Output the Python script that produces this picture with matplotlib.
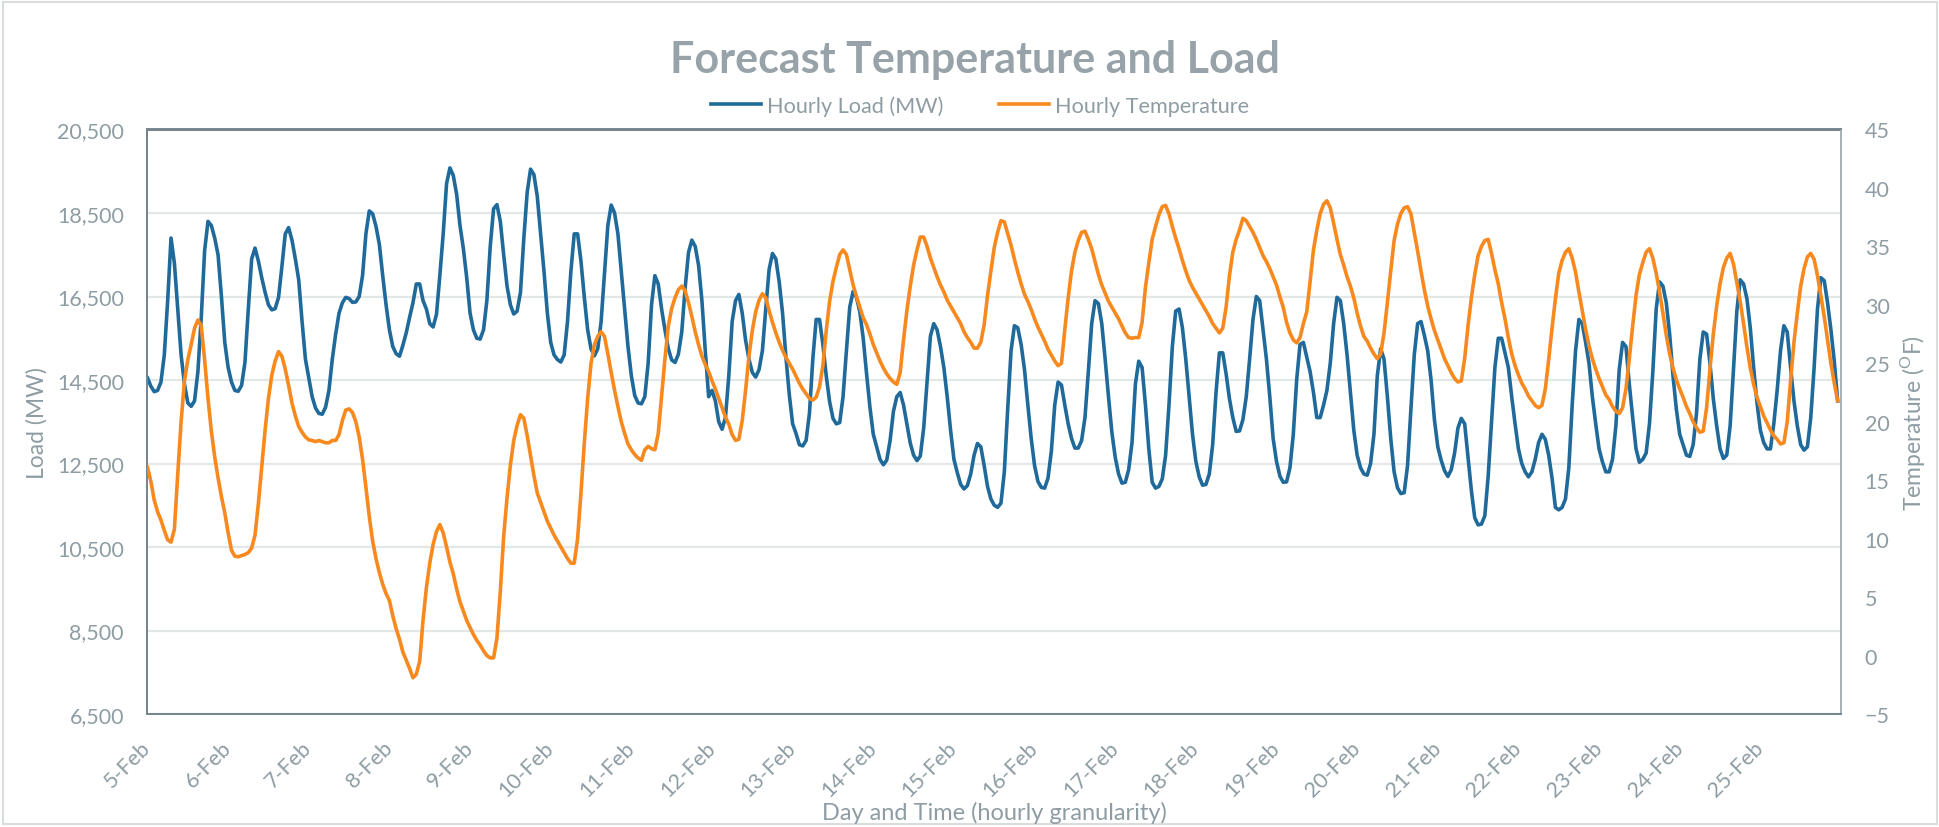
import matplotlib
matplotlib.use("Agg")
import matplotlib.pyplot as plt
import numpy as np
from matplotlib.ticker import FuncFormatter
from matplotlib.patches import Rectangle

# ---------------- data (hourly, 5-Feb 00:00 .. 25-Feb 23:00) -------------
day_labels = [f"{d}-Feb" for d in range(5, 26)]

load_mw = [
    # 5-Feb
    14550, 14350, 14220, 14250, 14450, 15100, 16400, 17900, 17300, 16200, 15100, 14400,
    13950, 13870, 14000, 14700, 16000, 17600, 18300, 18200, 17900, 17500, 16500, 15400,
    # 6-Feb
    14800, 14450, 14250, 14230, 14370, 14920, 16200, 17400, 17660, 17350, 16950, 16600,
    16300, 16180, 16210, 16480, 17220, 18000, 18150, 17850, 17400, 16900, 15900, 15000,
    # 7-Feb
    14550, 14100, 13830, 13700, 13680, 13850, 14250, 15000, 15600, 16100, 16350, 16480,
    16450, 16360, 16370, 16500, 17000, 18000, 18550, 18480, 18180, 17750, 17000, 16300,
    # 8-Feb
    15700, 15300, 15130, 15070, 15330, 15630, 16000, 16350, 16800, 16800, 16400, 16200,
    15850, 15770, 16070, 17000, 18000, 19200, 19580, 19400, 18950, 18200, 17650, 16950,
    # 9-Feb
    16100, 15700, 15500, 15480, 15700, 16400, 17700, 18600, 18700, 18300, 17500, 16750,
    16300, 16080, 16150, 16600, 17900, 19000, 19550, 19420, 18900, 18000, 17100, 16100,
    # 10-Feb
    15400, 15100, 14990, 14930, 15100, 15900, 17100, 18000, 18000, 17350, 16480, 15700,
    15240, 15080, 15250, 15900, 17050, 18200, 18690, 18500, 18000, 17100, 16200, 15300,
    # 11-Feb
    14600, 14130, 13950, 13930, 14100, 14900, 16300, 17000, 16800, 16200, 15700, 15250,
    14980, 14920, 15120, 15650, 16700, 17550, 17850, 17700, 17250, 16400, 15200, 14100,
    # 12-Feb
    14250, 14000, 13500, 13320, 13600, 14600, 15900, 16400, 16550, 16100, 15450, 15000,
    14680, 14570, 14750, 15200, 16200, 17150, 17530, 17400, 16850, 16100, 15050, 14150,
    # 13-Feb
    13450, 13220, 12950, 12920, 13050, 13700, 15000, 15950, 15950, 15350, 14600, 13980,
    13580, 13450, 13480, 14100, 15200, 16250, 16620, 16480, 16130, 15500, 14650, 13850,
    # 14-Feb
    13200, 12900, 12600, 12470, 12580, 13050, 13750, 14100, 14200, 13900, 13450, 12990,
    12700, 12570, 12680, 13350, 14450, 15550, 15850, 15700, 15300, 14800, 14100, 13300,
    # 15-Feb
    12600, 12280, 12000, 11890, 11970, 12250, 12700, 12980, 12900, 12450, 11950, 11650,
    11500, 11450, 11550, 12300, 13800, 15200, 15800, 15750, 15350, 14750, 13900, 13100,
    # 16-Feb
    12450, 12070, 11930, 11910, 12150, 12800, 13900, 14450, 14380, 13900, 13450, 13100,
    12870, 12870, 13050, 13600, 14700, 15850, 16400, 16330, 15850, 15000, 14100, 13250,
    # 17-Feb
    12650, 12250, 12030, 12050, 12350, 13000, 14400, 14950, 14800, 13900, 12850, 12050,
    11910, 11950, 12130, 12700, 13900, 15300, 16150, 16200, 15750, 15000, 14100, 13200,
    # 18-Feb
    12550, 12180, 11980, 12000, 12250, 12950, 14200, 15150, 15150, 14650, 14050, 13600,
    13270, 13280, 13550, 14100, 15000, 15950, 16500, 16400, 15700, 15000, 14100, 13100,
    # 19-Feb
    12550, 12200, 12050, 12060, 12400, 13200, 14500, 15350, 15400, 15050, 14700, 14200,
    13600, 13600, 13900, 14250, 14900, 15850, 16480, 16400, 15850, 15100, 14200, 13300,
    # 20-Feb
    12700, 12400, 12250, 12220, 12500, 13200, 14600, 15250, 15000, 14100, 13100, 12300,
    11920, 11780, 11800, 12450, 13800, 15100, 15850, 15900, 15570, 15200, 14500, 13550,
    # 21-Feb
    12900, 12580, 12330, 12190, 12350, 12750, 13350, 13580, 13450, 12650, 11850, 11200,
    11030, 11050, 11250, 12200, 13500, 14800, 15500, 15500, 15150, 14800, 14100, 13450,
    # 22-Feb
    12850, 12500, 12300, 12180, 12300, 12600, 13000, 13200, 13080, 12700, 12150, 11450,
    11390, 11450, 11650, 12400, 13900, 15200, 15950, 15850, 15400, 14900, 14100, 13450,
    # 23-Feb
    12850, 12540, 12300, 12300, 12600, 13400, 14750, 15400, 15300, 14400, 13600, 12850,
    12530, 12600, 12750, 13450, 14700, 16200, 16850, 16750, 16350, 15600, 14600, 13800,
    # 24-Feb
    13200, 12950, 12700, 12670, 12950, 13700, 15000, 15650, 15600, 14900, 14050, 13400,
    12850, 12620, 12700, 13400, 14750, 16150, 16900, 16800, 16450, 15750, 14800, 13950,
    # 25-Feb
    13300, 13000, 12850, 12850, 13450, 14250, 15200, 15800, 15650, 14800, 14000, 13400,
    12950, 12820, 12900, 13600, 14800, 16200, 16950, 16880, 16350, 15700, 14950, 14000,
]

temp_f = [
    # 5-Feb
    16.1, 14.9, 13.3, 12.3, 11.6, 10.7, 9.9, 9.7, 10.8, 15.5, 20.0, 23.5,
    25.3, 26.6, 28.0, 28.7, 28.2, 25.3, 22.0, 19.2, 17.0, 15.2, 13.6, 12.2,
    # 6-Feb
    10.5, 9.0, 8.5, 8.45, 8.55, 8.65, 8.8, 9.2, 10.3, 13.0, 16.2, 19.3,
    22.0, 24.0, 25.2, 26.0, 25.6, 24.5, 23.1, 21.6, 20.5, 19.6, 19.1, 18.7,
    # 7-Feb
    18.45, 18.4, 18.3, 18.4, 18.3, 18.2, 18.2, 18.4, 18.4, 18.9, 20.1, 21.0,
    21.1, 20.8, 20.0, 18.7, 16.8, 14.4, 11.9, 9.8, 8.3, 7.1, 6.1, 5.3,
    # 8-Feb
    4.7, 3.4, 2.3, 1.4, 0.3, -0.4, -1.1, -1.9, -1.6, -0.5, 3.0, 5.8,
    7.9, 9.5, 10.6, 11.2, 10.5, 9.3, 8.0, 7.0, 5.7, 4.6, 3.8, 3.0,
    # 9-Feb
    2.4, 1.8, 1.3, 0.9, 0.4, 0.0, -0.2, -0.2, 1.5, 5.5, 10.2, 13.5,
    16.3, 18.4, 19.7, 20.6, 20.3, 18.8, 17.1, 15.4, 13.9, 13.1, 12.3, 11.5,
    # 10-Feb
    10.9, 10.3, 9.8, 9.3, 8.8, 8.3, 7.9, 7.9, 10.0, 13.9, 18.2, 22.0,
    25.0, 26.6, 27.3, 27.7, 27.3, 25.8, 24.2, 22.7, 21.3, 20.0, 19.0, 18.1,
    # 11-Feb
    17.6, 17.2, 16.9, 16.7, 17.6, 17.9, 17.7, 17.6, 19.0, 22.2, 25.4, 28.2,
    29.7, 30.6, 31.3, 31.6, 31.2, 30.2, 29.0, 27.7, 26.6, 25.6, 24.9, 24.3,
    # 12-Feb
    23.5, 22.8, 22.0, 21.2, 20.4, 19.8, 18.9, 18.4, 18.5, 20.1, 22.7, 25.6,
    27.8, 29.4, 30.4, 30.95, 30.6, 29.5, 28.5, 27.6, 26.8, 26.1, 25.5, 25.0,
    # 13-Feb
    24.5, 23.9, 23.3, 22.8, 22.4, 22.0, 21.85, 22.1, 23.0, 24.8, 27.8, 30.3,
    32.0, 33.2, 34.3, 34.7, 34.3, 33.0, 31.7, 30.7, 29.8, 28.9, 28.3, 27.5,
    # 14-Feb
    26.6, 25.9, 25.2, 24.6, 24.1, 23.7, 23.4, 23.2, 24.2, 27.0, 29.5, 31.6,
    33.4, 34.7, 35.8, 35.8, 35.0, 34.0, 33.2, 32.4, 31.7, 31.1, 30.4, 29.9,
    # 15-Feb
    29.4, 28.9, 28.4, 27.7, 27.2, 26.8, 26.3, 26.3, 26.8, 28.3, 30.8, 32.9,
    34.9, 36.2, 37.2, 37.1, 36.1, 35.1, 33.9, 32.8, 31.8, 30.9, 30.3, 29.6,
    # 16-Feb
    28.8, 28.1, 27.5, 26.9, 26.2, 25.7, 25.2, 24.8, 25.0, 27.9, 30.6, 32.9,
    34.5, 35.5, 36.2, 36.3, 35.6, 34.8, 33.7, 32.6, 31.7, 31.0, 30.3, 29.8,
    # 17-Feb
    29.3, 28.8, 28.2, 27.6, 27.2, 27.15, 27.2, 27.2, 28.5, 31.5, 33.6, 35.6,
    36.7, 37.7, 38.4, 38.5, 37.8, 36.7, 35.7, 34.8, 33.8, 32.9, 32.1, 31.5,
    # 18-Feb
    31.0, 30.5, 30.0, 29.5, 29.0, 28.4, 28.0, 27.6, 28.0, 29.8, 32.5, 34.5,
    35.6, 36.4, 37.4, 37.2, 36.7, 36.2, 35.6, 34.9, 34.2, 33.7, 33.1, 32.4,
    # 19-Feb
    31.7, 30.7, 29.8, 28.5, 27.6, 27.0, 26.75, 27.2, 28.4, 29.4, 32.0, 34.7,
    36.4, 37.8, 38.6, 38.9, 38.3, 37.0, 35.6, 34.3, 33.4, 32.4, 31.6, 30.6,
    # 20-Feb
    29.3, 28.2, 27.3, 26.9, 26.3, 25.8, 25.4, 25.8, 27.6, 30.2, 32.9, 35.5,
    36.9, 37.8, 38.3, 38.4, 37.8, 36.2, 34.6, 32.9, 31.3, 29.9, 28.8, 27.8,
    # 21-Feb
    27.0, 26.2, 25.4, 24.8, 24.2, 23.7, 23.4, 23.5, 25.4, 28.2, 30.6, 32.6,
    34.2, 35.0, 35.5, 35.6, 34.4, 33.0, 31.8, 30.2, 28.8, 27.2, 25.8, 24.8,
    # 22-Feb
    24.0, 23.3, 22.8, 22.2, 21.8, 21.4, 21.2, 21.4, 22.8, 25.3, 28.0, 30.5,
    32.7, 33.8, 34.5, 34.8, 34.0, 32.8, 31.1, 29.5, 27.9, 26.5, 25.4, 24.5,
    # 23-Feb
    23.7, 23.0, 22.3, 21.9, 21.3, 20.9, 20.7, 21.2, 22.8, 25.4, 28.2, 30.8,
    32.6, 33.6, 34.5, 34.8, 34.0, 32.7, 31.1, 29.3, 27.4, 25.8, 24.6, 23.6,
    # 24-Feb
    22.8, 22.1, 21.3, 20.7, 20.0, 19.5, 19.1, 19.2, 21.2, 24.5, 27.5, 29.9,
    31.8, 33.2, 34.0, 34.4, 33.5, 31.9, 30.3, 28.4, 26.4, 24.6, 23.2, 22.1,
    # 25-Feb
    21.3, 20.5, 19.9, 19.3, 18.8, 18.5, 18.1, 18.2, 20.0, 23.5, 26.8, 29.3,
    31.6, 33.1, 34.1, 34.4, 33.9, 32.5, 30.8, 29.0, 27.0, 25.0, 23.3, 21.8,
]

load_ticks = list(range(6500, 20501, 2000))
temp_ticks = list(range(-5, 46, 5))

# ---------------- style ----------------
BLUE = "#1F6A9A"
ORANGE = "#F7891F"
TEXT = "#8E9DA3"
TITLE = "#97A3A8"
GRID = "#E3E7E8"
SPINE = "#76858E"

plt.rcParams["font.family"] = ["Lato", "DejaVu Sans"]
plt.rcParams["mathtext.fontset"] = "custom"
plt.rcParams["mathtext.rm"] = "Lato"

W, H = 1940, 828
fig = plt.figure(figsize=(W / 100, H / 100), dpi=100)
fig.patch.set_facecolor("white")

L, R, T, B = 147.5, 1841, 130.5, 715
ax = fig.add_axes([L / W, 1 - B / H, (R - L) / W, (B - T) / H])
ax2 = ax.twinx()

hours = np.arange(len(load_mw))
ax.plot(hours, load_mw, color=BLUE, lw=2.6, solid_joinstyle="round", zorder=3,
        label="Hourly Load (MW)")
ax2.plot(hours, temp_f, color=ORANGE, lw=2.6, solid_joinstyle="round", zorder=3,
         label="Hourly Temperature")

ax.set_xlim(0, len(load_mw))
ax.set_ylim(load_ticks[0], load_ticks[-1])
ax2.set_ylim(temp_ticks[0], temp_ticks[-1])
ax.set_yticks(load_ticks)
ax2.set_yticks(temp_ticks)
ax.yaxis.set_major_formatter(FuncFormatter(lambda v, p: f"{int(v):,}"))

ax.set_xticks(np.arange(0, 24 * len(day_labels), 24))
ax.set_xticklabels(day_labels, rotation=45, ha="right", va="center",
                   rotation_mode="anchor")

ax.grid(axis="y", color=GRID, lw=1.6)
ax.set_axisbelow(True)
ax.tick_params(axis="x", length=0, pad=22, labelsize=15.5, labelcolor=TEXT)
ax.tick_params(axis="y", length=0, pad=17, labelsize=15.5, labelcolor=TEXT)
ax2.tick_params(axis="y", length=0, pad=17, labelsize=15.5, labelcolor=TEXT)

for a in (ax, ax2):
    for side in ("top", "left", "bottom"):
        a.spines[side].set_color(SPINE)
        a.spines[side].set_linewidth(1.4)
    a.spines["right"].set_color("#A8B3B8")
    a.spines["right"].set_linewidth(1.4)

# axis titles
fig.text(37 / W, 1 - 423 / H, "Load (MW)", rotation=90, ha="center", va="center",
         fontsize=16.5, color=TEXT)
fig.text(1913 / W, 1 - 423 / H, r"Temperature ($^{\mathrm{O}}$F)", rotation=90,
         ha="center", va="center", fontsize=16.5, color=TEXT)
fig.text(((L + R) / 2) / W, 1 - 813 / H, "Day and Time (hourly granularity)",
         ha="center", va="center", fontsize=17, color=TEXT)

# title
fig.text(975 / W, 1 - 72.5 / H, "Forecast Temperature and Load", ha="center",
         va="baseline", fontsize=31, fontweight="bold", color=TITLE)

# legend
h1, l1 = ax.get_legend_handles_labels()
h2, l2 = ax2.get_legend_handles_labels()
fig.legend(h1 + h2, l1 + l2, loc="center", bbox_to_anchor=(980 / W, 1 - 106.5 / H),
           ncol=2, frameon=False, fontsize=15.6, labelcolor=TEXT, handlelength=2.3,
           handletextpad=0.25, columnspacing=2.6)

# outer chart border
fig.patches.append(Rectangle((3 / W, 3 / H), 1 - 6 / W, 1 - 6 / H, transform=fig.transFigure,
                             fill=False, edgecolor="#D9DDDE", lw=1.5))

fig.savefig("out.png", dpi=100, facecolor="white")
